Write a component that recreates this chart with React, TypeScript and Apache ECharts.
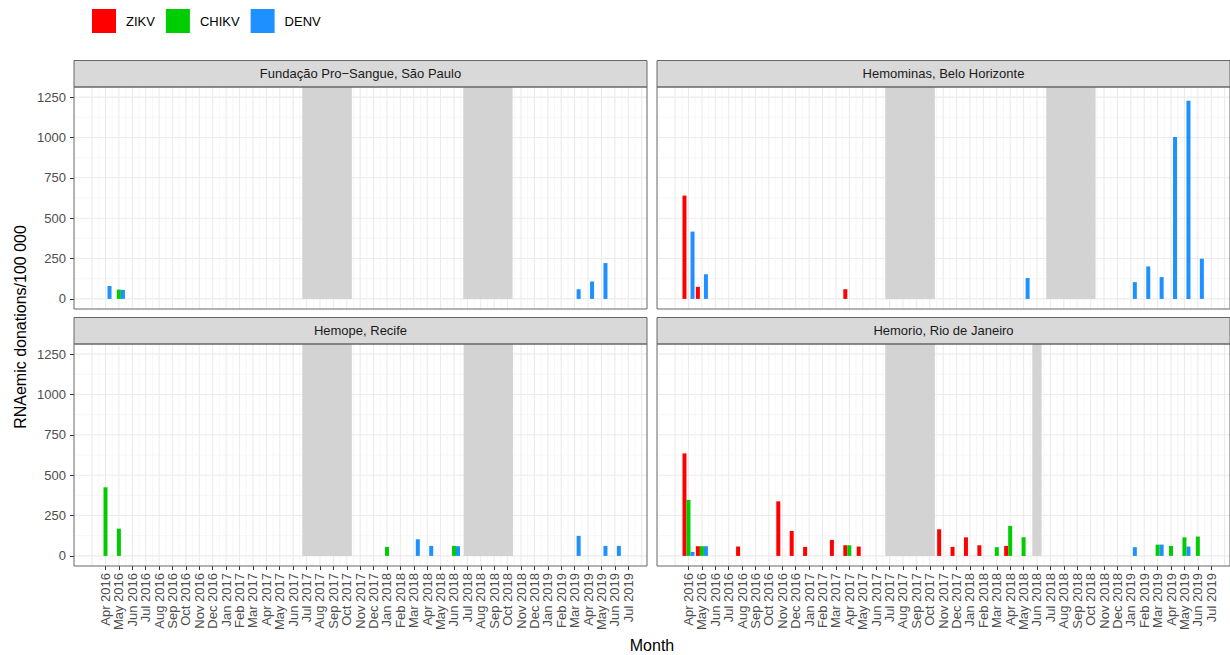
import React, { useEffect, useRef } from "react";
import * as echarts from "echarts";

// ---------- data ----------
const months: string[] = [
  "Apr 2016", "May 2016", "Jun 2016", "Jul 2016", "Aug 2016", "Sep 2016", "Oct 2016", "Nov 2016", "Dec 2016",
  "Jan 2017", "Feb 2017", "Mar 2017", "Apr 2017", "May 2017", "Jun 2017", "Jul 2017", "Aug 2017", "Sep 2017",
  "Oct 2017", "Nov 2017", "Dec 2017", "Jan 2018", "Feb 2018", "Mar 2018", "Apr 2018", "May 2018", "Jun 2018",
  "Jul 2018", "Aug 2018", "Sep 2018", "Oct 2018", "Nov 2018", "Dec 2018", "Jan 2019", "Feb 2019", "Mar 2019",
  "Apr 2019", "May 2019", "Jun 2019", "Jul 2019",
];

const valueTicks = [0, 250, 500, 750, 1000, 1250];
const valueMinorTicks = [125, 375, 625, 875, 1125];

type Pt = [string, number];

// Fundação Pro-Sangue, São Paulo
const spZIKV: Pt[] = [];
const spCHIKV: Pt[] = [["May 2016", 58]];
const spDENV: Pt[] = [["Apr 2016", 80], ["May 2016", 56], ["Mar 2019", 60], ["Apr 2019", 108], ["May 2019", 222]];
const spShade: [number, number][] = [[14.68, 18.38], [26.69, 30.37]];

// Hemominas, Belo Horizonte
const bhZIKV: Pt[] = [["Apr 2016", 640], ["May 2016", 75], ["Apr 2017", 60]];
const bhCHIKV: Pt[] = [];
const bhDENV: Pt[] = [
  ["Apr 2016", 417], ["May 2016", 153], ["May 2018", 129], ["Jan 2019", 104], ["Feb 2019", 201],
  ["Mar 2019", 135], ["Apr 2019", 1003], ["May 2019", 1227], ["Jun 2019", 249],
];
const bhShade: [number, number][] = [[14.68, 18.38], [26.69, 30.37]];

// Hemope, Recife
const reZIKV: Pt[] = [];
const reCHIKV: Pt[] = [["Apr 2016", 425], ["May 2016", 169], ["Jan 2018", 56], ["Jun 2018", 62]];
const reDENV: Pt[] = [["Mar 2018", 103], ["Apr 2018", 62], ["Jun 2018", 60], ["Mar 2019", 124], ["May 2019", 62], ["Jun 2019", 62]];
const reShade: [number, number][] = [[14.68, 18.38], [26.72, 30.4]];

// Hemorio, Rio de Janeiro
const rjZIKV: Pt[] = [
  ["Apr 2016", 635], ["May 2016", 60], ["Aug 2016", 58], ["Nov 2016", 338], ["Dec 2016", 155], ["Jan 2017", 56],
  ["Mar 2017", 99], ["Apr 2017", 66], ["May 2017", 58], ["Nov 2017", 165], ["Dec 2017", 56], ["Jan 2018", 115],
  ["Feb 2018", 66], ["Apr 2018", 62],
];
const rjCHIKV: Pt[] = [
  ["Apr 2016", 347], ["May 2016", 60], ["Apr 2017", 66], ["Mar 2018", 54], ["Apr 2018", 186], ["May 2018", 115],
  ["Mar 2019", 70], ["Apr 2019", 62], ["May 2019", 115], ["Jun 2019", 120],
];
const rjDENV: Pt[] = [["Apr 2016", 25], ["May 2016", 60], ["Jan 2019", 54], ["Mar 2019", 70], ["May 2019", 58]];
const rjShade: [number, number][] = [[14.68, 18.38], [25.65, 26.34]];

const panelTitles = [
  "Fundação Pro−Sangue, São Paulo",
  "Hemominas, Belo Horizonte",
  "Hemope, Recife",
  "Hemorio, Rio de Janeiro",
];

const panels = [
  { title: panelTitles[0], zikv: spZIKV, chikv: spCHIKV, denv: spDENV, shade: spShade },
  { title: panelTitles[1], zikv: bhZIKV, chikv: bhCHIKV, denv: bhDENV, shade: bhShade },
  { title: panelTitles[2], zikv: reZIKV, chikv: reCHIKV, denv: reDENV, shade: reShade },
  { title: panelTitles[3], zikv: rjZIKV, chikv: rjCHIKV, denv: rjDENV, shade: rjShade },
];

const virusNames = ["ZIKV", "CHIKV", "DENV"];
const virusColors = ["#FF0000", "#00CD00", "#1E90FF"];

// ---------- layout ----------
const FONT = "'Liberation Sans', Arial, Helvetica, sans-serif";
const X_MIN = -2.35;
const X_MAX = 40.4;
const Y_MIN = -62.5;
const Y_MAX = 1312.5;
const PANEL_W = 573;
const PANEL_H = 222;
const STRIP_H = 26.5;
const lefts = [74, 657, 74, 657];
const tops = [87, 87, 344, 344];
const DODGE = 0.3;
const BAR_W = 4;

export default function App() {
  const ref = useRef<HTMLDivElement>(null);

  useEffect(() => {
    if (!ref.current) return;
    const chart = echarts.init(ref.current, undefined, { renderer: "svg" });

    const monthIdx = months.map((_, i) => i);
    const majorX: number[] = [];
    for (let i = -1; i <= 40; i++) majorX.push(i);
    const minorX: number[] = [];
    for (let i = -1; i <= 39; i++) minorX.push(i + 0.5);

    const grids: any[] = [];
    const xAxes: any[] = [];
    const yAxes: any[] = [];
    const series: any[] = [];
    const graphics: any[] = [];

    panels.forEach((p, i) => {
      const isBottom = i >= 2;
      const isLeft = i % 2 === 0;
      grids.push({ left: lefts[i], top: tops[i], width: PANEL_W, height: PANEL_H, containLabel: false });
      xAxes.push({
        type: "value",
        gridIndex: i,
        position: "bottom",
        min: X_MIN,
        max: X_MAX,
        axisLine: { show: false, onZero: false },
        splitLine: { show: false },
        axisTick: {
          show: isBottom,
          customValues: monthIdx,
          length: 4,
          lineStyle: { color: "#333333", width: 1 },
        },
        axisLabel: {
          show: isBottom,
          customValues: monthIdx,
          rotate: 90,
          margin: 7,
          fontSize: 13,
          fontFamily: FONT,
          color: "#4D4D4D",
          formatter: (v: number) => months[Math.round(v)] ?? "",
        },
      });
      yAxes.push({
        type: "value",
        gridIndex: i,
        position: "left",
        min: Y_MIN,
        max: Y_MAX,
        axisLine: { show: false, onZero: false },
        splitLine: { show: false },
        axisTick: {
          show: isLeft,
          customValues: valueTicks,
          length: 4,
          lineStyle: { color: "#333333", width: 1 },
        },
        axisLabel: {
          show: isLeft,
          customValues: valueTicks,
          margin: 8,
          fontSize: 13,
          fontFamily: FONT,
          color: "#4D4D4D",
          formatter: (v: number) => String(v),
        },
      });

      // grid lines
      series.push({
        type: "custom",
        xAxisIndex: i,
        yAxisIndex: i,
        silent: true,
        z: 1,
        data: [[0, 0]],
        renderItem: (params: any, api: any) => {
          const cs = params.coordSys;
          const children: any[] = [];
          const minor = { stroke: "#F3F3F3", lineWidth: 0.7 };
          const major = { stroke: "#EBEBEB", lineWidth: 1.1 };
          valueMinorTicks.forEach((v) => {
            const y = api.coord([0, v])[1];
            children.push({ type: "line", shape: { x1: cs.x, y1: y, x2: cs.x + cs.width, y2: y }, style: minor });
          });
          minorX.forEach((v) => {
            const x = api.coord([v, 0])[0];
            if (x > cs.x && x < cs.x + cs.width)
              children.push({ type: "line", shape: { x1: x, y1: cs.y, x2: x, y2: cs.y + cs.height }, style: minor });
          });
          valueTicks.forEach((v) => {
            const y = api.coord([0, v])[1];
            children.push({ type: "line", shape: { x1: cs.x, y1: y, x2: cs.x + cs.width, y2: y }, style: major });
          });
          majorX.forEach((v) => {
            const x = api.coord([v, 0])[0];
            if (x > cs.x && x < cs.x + cs.width)
              children.push({ type: "line", shape: { x1: x, y1: cs.y, x2: x, y2: cs.y + cs.height }, style: major });
          });
          return { type: "group", children };
        },
      });

      // shaded periods
      series.push({
        type: "custom",
        xAxisIndex: i,
        yAxisIndex: i,
        silent: true,
        z: 2,
        encode: { x: [0, 1] },
        data: p.shade,
        renderItem: (params: any, api: any) => {
          const a = api.coord([api.value(0), 0]);
          const b = api.coord([api.value(1), Y_MAX]);
          return {
            type: "rect",
            shape: { x: a[0], y: b[1], width: b[0] - a[0], height: a[1] - b[1] },
            style: { fill: "#D3D3D3" },
          };
        },
      });

      const groups = [p.zikv, p.chikv, p.denv];
      groups.forEach((arr, k) => {
        series.push({
          type: "bar",
          name: virusNames[k],
          xAxisIndex: i,
          yAxisIndex: i,
          barWidth: BAR_W,
          barGap: "-100%",
          z: 3,
          itemStyle: { color: virusColors[k] },
          data: arr.map(([m, v]) => [months.indexOf(m) + (k - 1) * DODGE, v]),
        });
      });

      // strip
      graphics.push({
        type: "rect",
        z: 50,
        shape: { x: lefts[i], y: tops[i] - STRIP_H, width: PANEL_W, height: STRIP_H },
        style: { fill: "#D9D9D9", stroke: "#666666", lineWidth: 1 },
      });
      graphics.push({
        type: "text",
        z: 51,
        x: lefts[i] + PANEL_W / 2,
        y: tops[i] - STRIP_H / 2,
        style: {
          text: p.title,
          fontSize: 13,
          fontFamily: FONT,
          fill: "#1A1A1A",
          textAlign: "center",
          textVerticalAlign: "middle",
        },
      });
      // panel border
      graphics.push({
        type: "rect",
        z: 50,
        shape: { x: lefts[i], y: tops[i], width: PANEL_W, height: PANEL_H },
        style: { fill: "none", stroke: "#666666", lineWidth: 1 },
      });
    });

    graphics.push({
      type: "text",
      x: 20,
      y: 327,
      rotation: Math.PI / 2,
      style: {
        text: "RNAemic donations/100 000",
        fontSize: 16,
        fontFamily: FONT,
        fill: "#000000",
        textAlign: "center",
        textVerticalAlign: "middle",
      },
    });
    graphics.push({
      type: "text",
      x: 652,
      y: 645,
      style: {
        text: "Month",
        fontSize: 16,
        fontFamily: FONT,
        fill: "#000000",
        textAlign: "center",
        textVerticalAlign: "middle",
      },
    });

    chart.setOption({
      animation: false,
      textStyle: { fontFamily: FONT },
      legend: {
        left: 92,
        top: 9,
        padding: 0,
        icon: "rect",
        itemWidth: 24,
        itemHeight: 24,
        itemGap: 11,
        selectedMode: false,
        data: virusNames,
        textStyle: { fontSize: 13, fontFamily: FONT, color: "#000000", padding: [0, 0, 0, 5] },
      },
      grid: grids,
      xAxis: xAxes,
      yAxis: yAxes,
      series,
      graphic: graphics,
    });

    return () => chart.dispose();
  }, []);

  return <div ref={ref} style={{ position: "absolute", left: 0, top: 0, width: 1230, height: 655 }} />;
}
